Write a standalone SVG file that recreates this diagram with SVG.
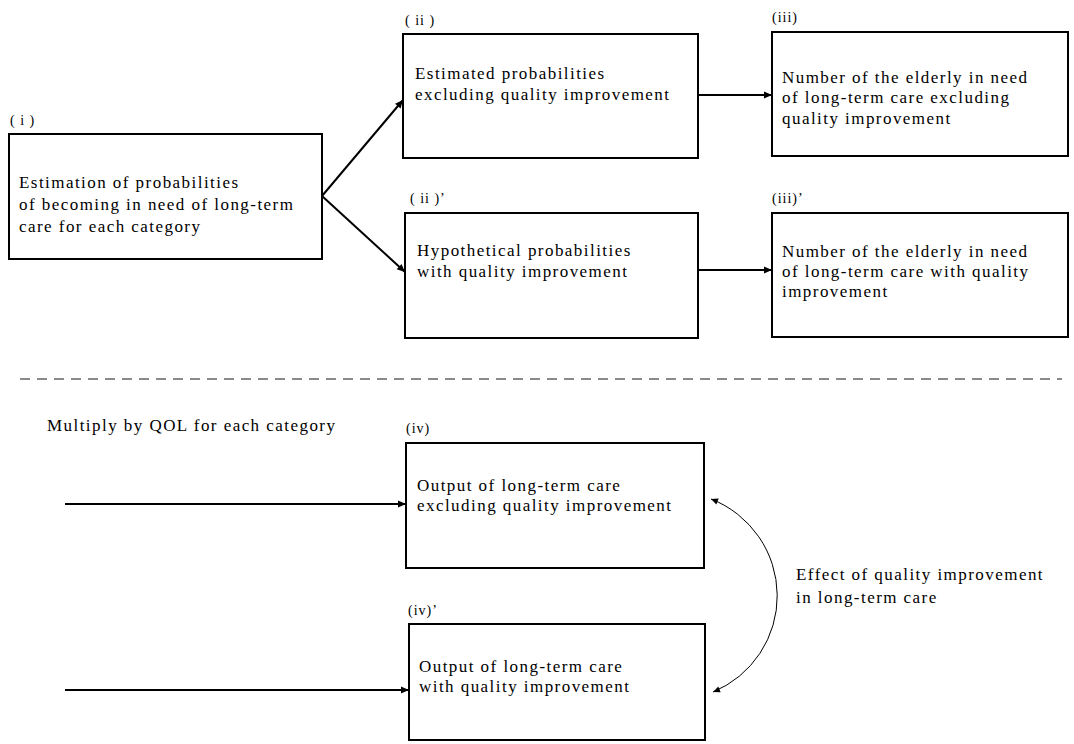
<svg xmlns="http://www.w3.org/2000/svg" width="1074" height="744" viewBox="0 0 1074 744">
<style>
.box{fill:#fff;stroke:#000;stroke-width:2}
.t{font-family:"Liberation Serif","Times New Roman",serif;font-size:17px;letter-spacing:1.45px;fill:#000}
.lb{font-family:"Liberation Serif","Times New Roman",serif;font-size:14px;letter-spacing:1px;fill:#000}
.ar{stroke:#000;stroke-width:2;fill:none;marker-end:url(#ah)}
.cv{stroke:#000;stroke-width:1;fill:none;marker-start:url(#ch);marker-end:url(#ch)}
</style>
<defs>
<marker id="ah" viewBox="0 0 10 10" refX="10" refY="5" markerWidth="9" markerHeight="8" markerUnits="userSpaceOnUse" orient="auto"><path d="M0,0.5 L10,5 L0,9.5 z" fill="#000"/></marker>
<marker id="ch" viewBox="0 0 10 10" refX="10" refY="5" markerWidth="8" markerHeight="7" markerUnits="userSpaceOnUse" orient="auto-start-reverse"><path d="M0,0.5 L10,5 L0,9.5 z" fill="#000"/></marker>
</defs>
<rect width="1074" height="744" fill="#fff"/>

<g id="connectors">
<line class="ar" x1="322" y1="196" x2="403" y2="100"/>
<line class="ar" x1="322" y1="196" x2="405" y2="272"/>
<line class="ar" x1="698" y1="95" x2="772" y2="95"/>
<line class="ar" x1="698" y1="270" x2="772" y2="270"/>
<line class="ar" x1="65" y1="504" x2="406" y2="504"/>
<line class="ar" x1="65" y1="690" x2="409" y2="690"/>
<path class="cv" d="M711,499 A104,104 0 0,1 713,692"/>
</g>

<line id="divider" x1="20" y1="379" x2="1062" y2="379" stroke="#8a8a8a" stroke-width="2" stroke-dasharray="10 7"/>

<g id="node-i">
<text class="lb" x="10" y="125">( i )</text>
<rect class="box" x="9" y="134" width="313" height="125"/>
<text class="t" x="19" y="188">Estimation of probabilities</text>
<text class="t" x="19" y="210">of becoming in need of long-term</text>
<text class="t" x="19" y="232">care for each category</text>
</g>

<g id="node-ii">
<text class="lb" x="405" y="25">( ii )</text>
<rect class="box" x="403" y="34" width="295" height="124"/>
<text class="t" x="415" y="79">Estimated probabilities</text>
<text class="t" x="415" y="100">excluding quality improvement</text>
</g>

<g id="node-iii">
<text class="lb" x="772" y="22">(iii)</text>
<rect class="box" x="772" y="32" width="296" height="124"/>
<text class="t" x="782" y="83">Number of the elderly in need</text>
<text class="t" x="782" y="103">of long-term care excluding</text>
<text class="t" x="782" y="124">quality improvement</text>
</g>

<g id="node-ii-prime">
<text class="lb" x="410" y="203">( ii )’</text>
<rect class="box" x="405" y="213" width="293" height="125"/>
<text class="t" x="417" y="256">Hypothetical probabilities</text>
<text class="t" x="417" y="277">with quality improvement</text>
</g>

<g id="node-iii-prime">
<text class="lb" x="772" y="203">(iii)’</text>
<rect class="box" x="772" y="213" width="296" height="124"/>
<text class="t" x="782" y="257">Number of the elderly in need</text>
<text class="t" x="782" y="277">of long-term care with quality</text>
<text class="t" x="782" y="297">improvement</text>
</g>

<g id="label-multiply">
<text class="t" x="47" y="431">Multiply by QOL for each category</text>
</g>

<g id="node-iv">
<text class="lb" x="406" y="433">(iv)</text>
<rect class="box" x="406" y="443" width="298" height="125"/>
<text class="t" x="417" y="491">Output of long-term care</text>
<text class="t" x="417" y="511">excluding quality improvement</text>
</g>

<g id="node-iv-prime">
<text class="lb" x="408" y="615">(iv)’</text>
<rect class="box" x="409" y="624" width="296" height="116"/>
<text class="t" x="419" y="672">Output of long-term care</text>
<text class="t" x="419" y="692">with quality improvement</text>
</g>

<g id="label-effect">
<text class="t" x="796" y="580">Effect of quality improvement</text>
<text class="t" x="796" y="603">in long-term care</text>
</g>
</svg>
